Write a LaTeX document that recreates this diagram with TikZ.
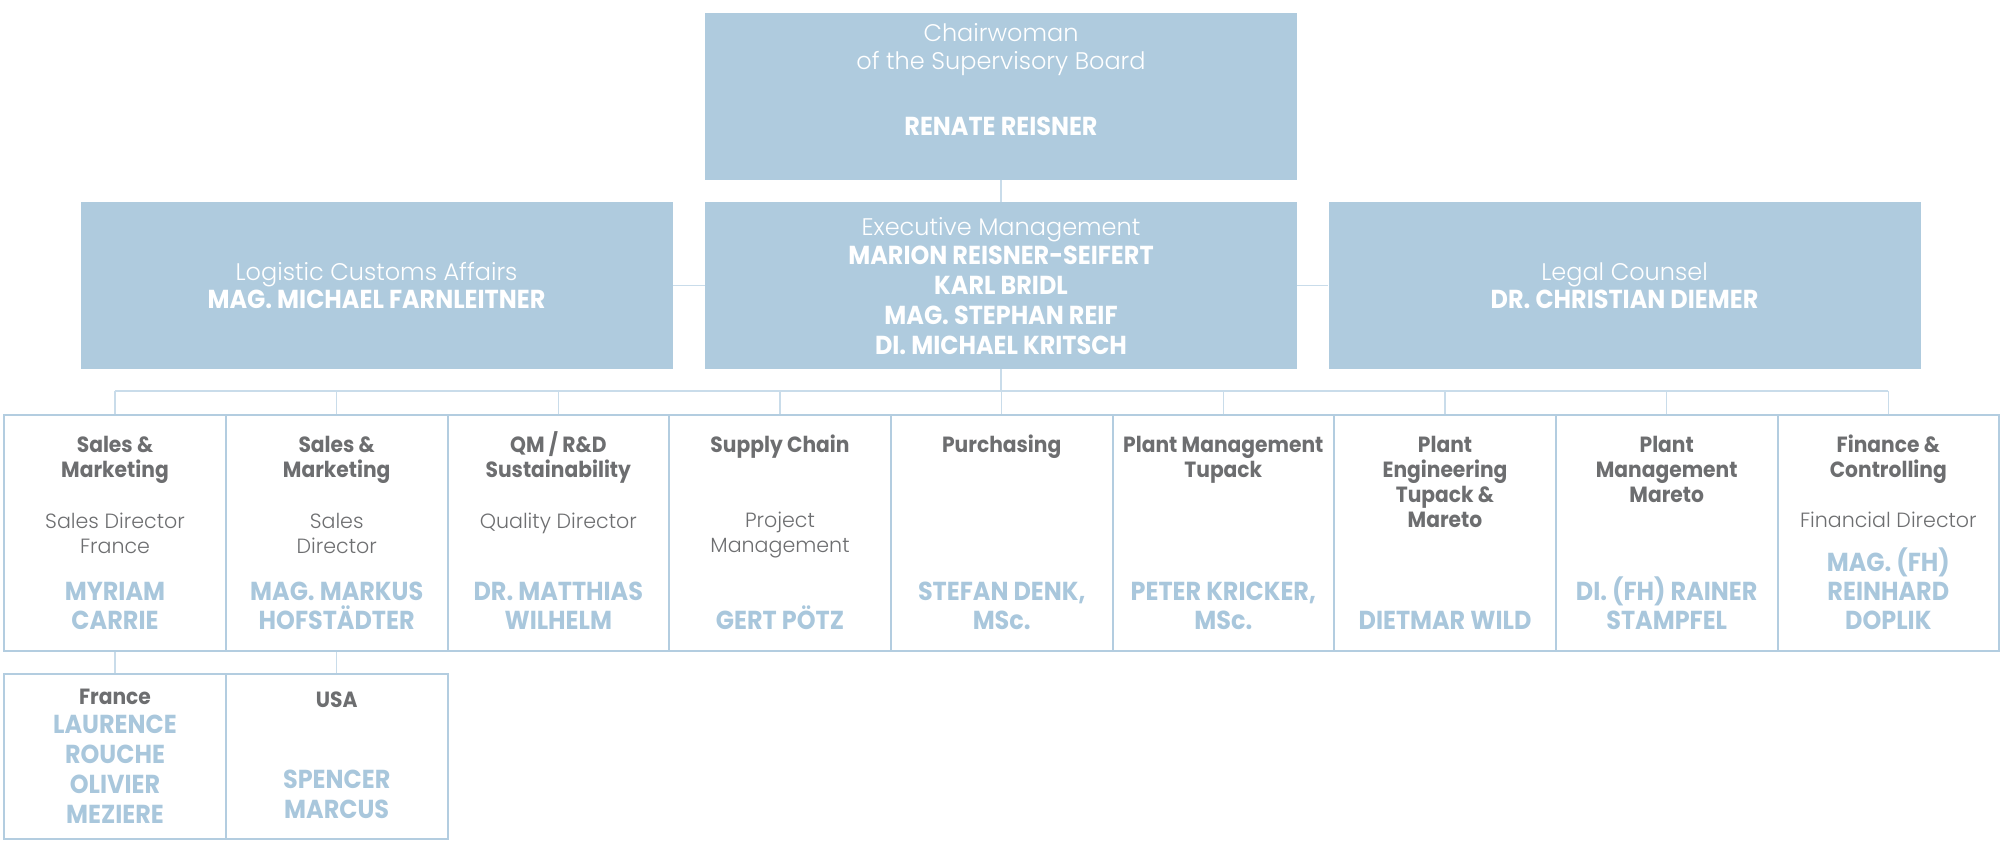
\documentclass[tikz,border=0pt]{standalone}
\usepackage{fontspec}
\setmainfont{Poppins}
\newfontfamily\lightf{Poppins Light}
\newfontfamily\boldf[FakeStretch=0.92]{Poppins Bold}
\definecolor{boxfill}{HTML}{AFCBDE}
\definecolor{rowline}{HTML}{B3CDE0}
\definecolor{conn}{HTML}{C9DCEA}
\definecolor{graytxt}{HTML}{6D6E70}
\definecolor{nameblue}{HTML}{A9C7DC}
\tikzset{
  topbox/.style={fill=boxfill, draw=none, minimum width=296pt, minimum height=83.5pt, inner sep=0pt},
  rowbox/.style={draw=rowline, line width=1pt, minimum width=110.8pt, minimum height=118pt, inner sep=0pt},
  subbox/.style={draw=rowline, line width=1pt, minimum width=110.8pt, minimum height=82.5pt, inner sep=0pt},
  connector/.style={draw=conn, line width=0.7pt},
  toplight/.style={anchor=base, inner sep=0pt, align=center, text=white, font=\lightf\fontsize{12}{14}\selectfont},
  topbold/.style={anchor=base, inner sep=0pt, align=center, text=white, font=\boldf\fontsize{13}{15}\selectfont},
  rtitle/.style={anchor=base, inner sep=0pt, align=center, text=graytxt, font=\boldf\fontsize{11}{12.35}\selectfont},
  rsub/.style={anchor=base, inner sep=0pt, align=center, text=graytxt, font=\lightf\fontsize{10.3}{12.5}\selectfont},
  rname/.style={anchor=base, inner sep=0pt, align=center, text=nameblue, font=\boldf\fontsize{13}{14.5}\selectfont},
  sname/.style={anchor=base, inner sep=0pt, align=center, text=nameblue, font=\boldf\fontsize{13}{15}\selectfont},
}
\begin{document}
\begin{tikzpicture}[x=0.5pt, y=-0.5pt]
\useasboundingbox (0,0) rectangle (2000,852);
% top boxes
\node[topbox] (chair) at (1001,96.5) {};
\node[topbox] (exec) at (1001,285.5) {};
\node[topbox] (logi) at (376.5,285.5) {};
\node[topbox] (legal) at (1624.5,285.5) {};
% (anchor=base of a multi-line node = baseline of its last line)
\node[toplight] (chairT) at (1001,69) {Chairwoman\\of the Supervisory Board};
\node[topbold] (chairN) at (1001,135) {RENATE REISNER};
\node[toplight] (execT) at (1001,235) {Executive Management};
\node[topbold] (execN) at (1001,354) {MARION REISNER-SEIFERT\\KARL BRIDL\\MAG. STEPHAN REIF\\DI. MICHAEL KRITSCH};
\node[toplight] (logiT) at (376.5,280) {Logistic Customs Affairs};
\node[topbold] (logiN) at (376.5,308) {MAG. MICHAEL FARNLEITNER};
\node[toplight] (legalT) at (1624.5,280) {Legal Counsel};
\node[topbold] (legalN) at (1624.5,308) {DR. CHRISTIAN DIEMER};
% row boxes
\node[rowbox] (r1) at (115,533) {};
\node[rowbox] (r2) at (336.7,533) {};
\node[rowbox] (r3) at (558.3,533) {};
\node[rowbox] (r4) at (780,533) {};
\node[rowbox] (r5) at (1001.7,533) {};
\node[rowbox] (r6) at (1223.3,533) {};
\node[rowbox] (r7) at (1445,533) {};
\node[rowbox] (r8) at (1666.7,533) {};
\node[rowbox] (r9) at (1888.3,533) {};
% sub boxes
\node[subbox] (s1) at (115,756.5) {};
\node[subbox] (s2) at (336.7,756.5) {};
% connectors
\coordinate (bus) at (1001,391);
\coordinate (busL) at (115,391);
\coordinate (busR) at (1888.3,391);
\draw[connector] (chair.south) -- (exec.north);
\draw[connector] (logi.east) -- (exec.west);
\draw[connector] (exec.east) -- (legal.west);
\draw[connector] (exec.south) -- (bus);
\draw[connector] (busL) -- (busR);
\foreach \r in {r1,r2,r3,r4,r5,r6,r7,r8,r9}
  \draw[connector] (\r.north) -- (\r.north |- bus);
\draw[connector] (r1.south) -- (s1.north);
\draw[connector] (r2.south) -- (s2.north);
% row texts
\node[rtitle] (t1) at (115,477) {Sales \&\\Marketing};
\node[rsub] (u1) at (115,553) {Sales Director\\France};
\node[rname] (n1) at (115,629) {MYRIAM\\CARRIE};
\node[rtitle] (t2) at (336.7,477) {Sales \&\\Marketing};
\node[rsub] (u2) at (336.7,553) {Sales\\Director};
\node[rname] (n2) at (336.7,629) {MAG. MARKUS\\HOFSTÄDTER};
\node[rtitle] (t3) at (558.3,477) {QM / R\&D\\Sustainability};
\node[rsub] (u3) at (558.3,528) {Quality Director};
\node[rname] (n3) at (558.3,629) {DR. MATTHIAS\\WILHELM};
\node[rtitle] (t4) at (780,452) {Supply Chain};
\node[rsub] (u4) at (780,552) {Project\\Management};
\node[rname] (n4) at (780,629) {GERT PÖTZ};
\node[rtitle] (t5) at (1001.7,452) {Purchasing};
\node[rname] (n5) at (1001.7,629) {STEFAN DENK,\\MSc.};
\node[rtitle] (t6) at (1223.3,477) {Plant Management\\Tupack};
\node[rname] (n6) at (1223.3,629) {PETER KRICKER,\\MSc.};
\node[rtitle] (t7) at (1445,527) {Plant\\Engineering\\Tupack \&\\Mareto};
\node[rname] (n7) at (1445,629) {DIETMAR WILD};
\node[rtitle] (t8) at (1666.7,502) {Plant\\Management\\Mareto};
\node[rname] (n8) at (1666.7,629) {DI. (FH) RAINER\\STAMPFEL};
\node[rtitle] (t9) at (1888.3,477) {Finance \&\\Controlling};
\node[rsub] (u9) at (1888.3,527) {Financial Director};
\node[rname] (n9) at (1888.3,629) {MAG. (FH)\\REINHARD\\DOPLIK};
% sub texts
\node[rtitle] (st1) at (115,704) {France};
\node[sname] (sn1) at (115,823) {LAURENCE\\ROUCHE\\OLIVIER\\MEZIERE};
\node[rtitle] (st2) at (336.7,707) {USA};
\node[sname] (sn2) at (336.7,818) {SPENCER\\MARCUS};
\end{tikzpicture}
\end{document}
